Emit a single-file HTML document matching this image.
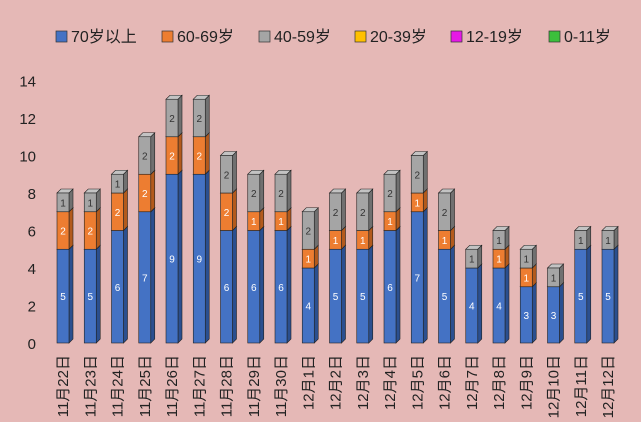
<!DOCTYPE html>
<html><head><meta charset="utf-8">
<style>
body{margin:0;width:641px;height:422px;overflow:hidden;background:#e5b8b6;font-family:"Liberation Sans","Noto Sans CJK SC",sans-serif;}
svg{display:block}
</style></head>
<body>
<svg id="chart" width="641" height="422">
<rect width="641" height="422" fill="#e5b8b6"/>
<g id="legend"></g>
<g id="yaxis"></g>
<g id="bars"></g>
<g id="xaxis"></g>
</svg>
<script>
const categories=["11月22日","11月23日","11月24日","11月25日","11月26日","11月27日","11月28日","11月29日","11月30日","12月1日","12月2日","12月3日","12月4日","12月5日","12月6日","12月7日","12月8日","12月9日","12月10日","12月11日","12月12日"];
const age70=[5,5,6,7,9,9,6,6,6,4,5,5,6,7,5,4,4,3,3,5,5];
const age60=[2,2,2,2,2,2,2,1,1,1,1,1,1,1,1,0,1,1,0,0,0];
const age40=[1,1,1,2,2,2,2,2,2,2,2,2,2,2,2,1,1,1,1,1,1];
const age20=[0,0,0,0,0,0,0,0,0,0,0,0,0,0,0,0,0,0,0,0,0];
const age12=[0,0,0,0,0,0,0,0,0,0,0,0,0,0,0,0,0,0,0,0,0];
const age0=[0,0,0,0,0,0,0,0,0,0,0,0,0,0,0,0,0,0,0,0,0];
const yTicks=[0,2,4,6,8,10,12,14];
const seriesNames=["70岁以上","60-69岁","40-59岁","20-39岁","12-19岁","0-11岁"];

const NS="http://www.w3.org/2000/svg";
const colors=["#4472c4","#ed7d31","#a5a5a5","#ffc000","#e619e6","#3cbf3c"];
const sides=["#2b4f8f","#b35a1c","#707070","#b38600","#a010a0","#2a8a2a"];
const tops=["#6a8fd6","#f29a5c","#c3c3c3","#ffd24d","#f050f0","#60d060"];
const series=[age70,age60,age40,age20,age12,age0];
const y0=343,yScale=18.75,x0=63,step=27.25,bw=12,dep=4;
function Y(v){return y0-v*yScale;}
function X(i){return x0+i*step;}
function mk(tag,attrs,parent){const e=document.createElementNS(NS,tag);for(const k in attrs)e.setAttribute(k,attrs[k]);parent.appendChild(e);return e;}

const yg=document.getElementById('yaxis');
yTicks.forEach(t=>{
  const tx=mk('text',{x:36,y:Y(t)+6,'text-anchor':'end','font-size':15,fill:'#222'},yg);
  tx.textContent=t;
  
  
});

const bg=document.getElementById('bars');
categories.forEach((c,i)=>{
  let base=0;const cx=X(i),l=cx-bw/2;
  series.forEach((s,k)=>{
    const v=s[i];if(!v)return;
    const yt=Y(base+v),yb=Y(base);
    const g=mk('g',{},bg);
    
    
    mk('polygon',{points:`${l+bw},${yb} ${l+bw+dep},${yb-dep} ${l+bw+dep},${yt-dep} ${l+bw},${yt}`,fill:sides[k],stroke:'#222','stroke-width':0.6},g);
    mk('polygon',{points:`${l},${yt} ${l+dep},${yt-dep} ${l+bw+dep},${yt-dep} ${l+bw},${yt}`,fill:tops[k],stroke:'#222','stroke-width':0.6},g);
    mk('rect',{x:l,y:yt,width:bw,height:yb-yt,fill:colors[k],stroke:'#222','stroke-width':0.6},g);
    const t=mk('text',{x:cx,y:(yt+yb)/2+4,'text-anchor':'middle','font-size':10,fill:k==2?'#333':'#fff'},g);
    t.textContent=v;
    
    
    base+=v;
  });
});

const xg=document.getElementById('xaxis');
categories.forEach((c,i)=>{
  const t=mk('text',{x:0,y:0,'text-anchor':'end','font-size':15,fill:'#222',transform:`translate(${X(i)+5},355) rotate(-90)`},xg);
  t.textContent=c;
  
  
});

const lg=document.getElementById('legend');
const lx=[56,162,259,355,451,549];
seriesNames.forEach((n,k)=>{
  const g=mk('g',{},lg);
  
  
  mk('rect',{x:lx[k],y:31,width:11,height:11,fill:colors[k],stroke:'#333','stroke-width':0.7},g);
  const t=mk('text',{x:lx[k]+15,y:42,'font-size':16,fill:'#222'},g);
  t.textContent=n;
});
</script>
</body></html>
